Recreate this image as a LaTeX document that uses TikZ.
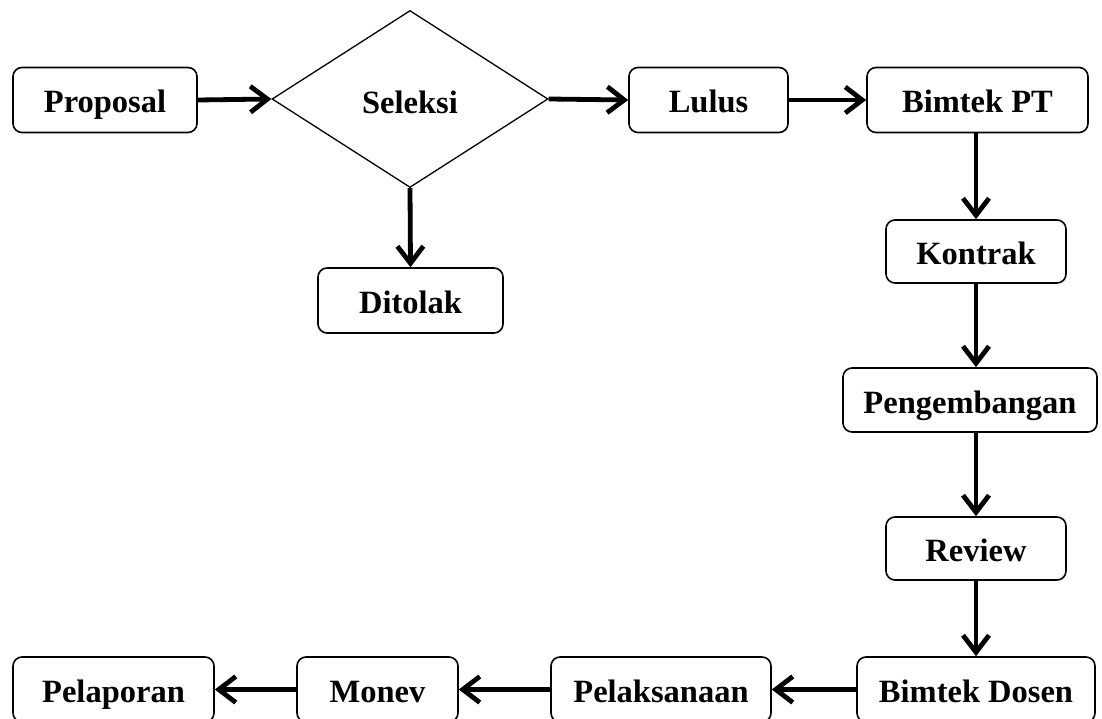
\documentclass[tikz,border=0pt]{standalone}
\usepackage{fontspec}
\setmainfont{Liberation Serif}
\usetikzlibrary{shapes.geometric,arrows.meta}
\begin{document}
\begin{tikzpicture}[x=1pt,y=-1pt,
  box/.style={draw,line width=1.6pt,rounded corners=9pt,minimum height=65pt,inner sep=0pt,
    font=\fontsize{32.5}{36}\selectfont\bfseries,text height=29pt,text depth=3pt},
  dia/.style={draw,line width=1.3pt,diamond,aspect=1.55,inner sep=0pt,minimum width=276pt,minimum height=177pt,
    font=\fontsize{32.5}{36}\selectfont\bfseries,text height=30pt,text depth=0pt},
  flow/.style={line width=4.8pt,-{Straight Barb[length=17pt,width=26pt,line width=4.8pt]}}]
\clip (0,0) rectangle (1102,719);
\fill[white] (0,0) rectangle (1102,719);
\node[box,minimum width=184pt] (prop) at (105,100) {Proposal};
\node[dia] (sel) at (410,99) {Seleksi};
\node[box,minimum width=159pt] (lulus) at (708.5,100) {Lulus};
\node[box,minimum width=221pt] (bpt) at (977.5,100) {Bimtek PT};
\node[box,minimum width=185pt] (tolak) at (410.5,300.5) {Ditolak};
\node[box,minimum width=180pt,minimum height=63pt] (kontrak) at (976,251.5) {Kontrak};
\node[box,minimum width=254pt,minimum height=64pt] (peng) at (970,400) {Pengembangan};
\node[box,minimum width=180pt,minimum height=63pt] (review) at (976,548.5) {Review};
\node[box,minimum width=238pt] (bdosen) at (976,689.5) {Bimtek Dosen};
\node[box,minimum width=220pt] (pelak) at (661,689.5) {Pelaksanaan};
\node[box,minimum width=161pt] (monev) at (377.5,689.5) {Monev};
\node[box,minimum width=201pt] (pelap) at (113.5,689.5) {Pelaporan};
\draw[flow] (prop.east) -- (sel.west);
\draw[flow] (sel.east) -- (lulus.west);
\draw[flow] (lulus.east) -- (bpt.west);
\draw[flow] (sel.south) -- (tolak.north);
\draw[flow] (bpt.south -| kontrak.north) -- (kontrak.north);
\draw[flow] (kontrak.south) -- (kontrak.south |- peng.north);
\draw[flow] (kontrak.south |- peng.south) -- (review.north);
\draw[flow] (review.south) -- (bdosen.north);
\draw[flow] (bdosen.west) -- (pelak.east);
\draw[flow] (pelak.west) -- (monev.east);
\draw[flow] (monev.west) -- (pelap.east);
\end{tikzpicture}
\end{document}
